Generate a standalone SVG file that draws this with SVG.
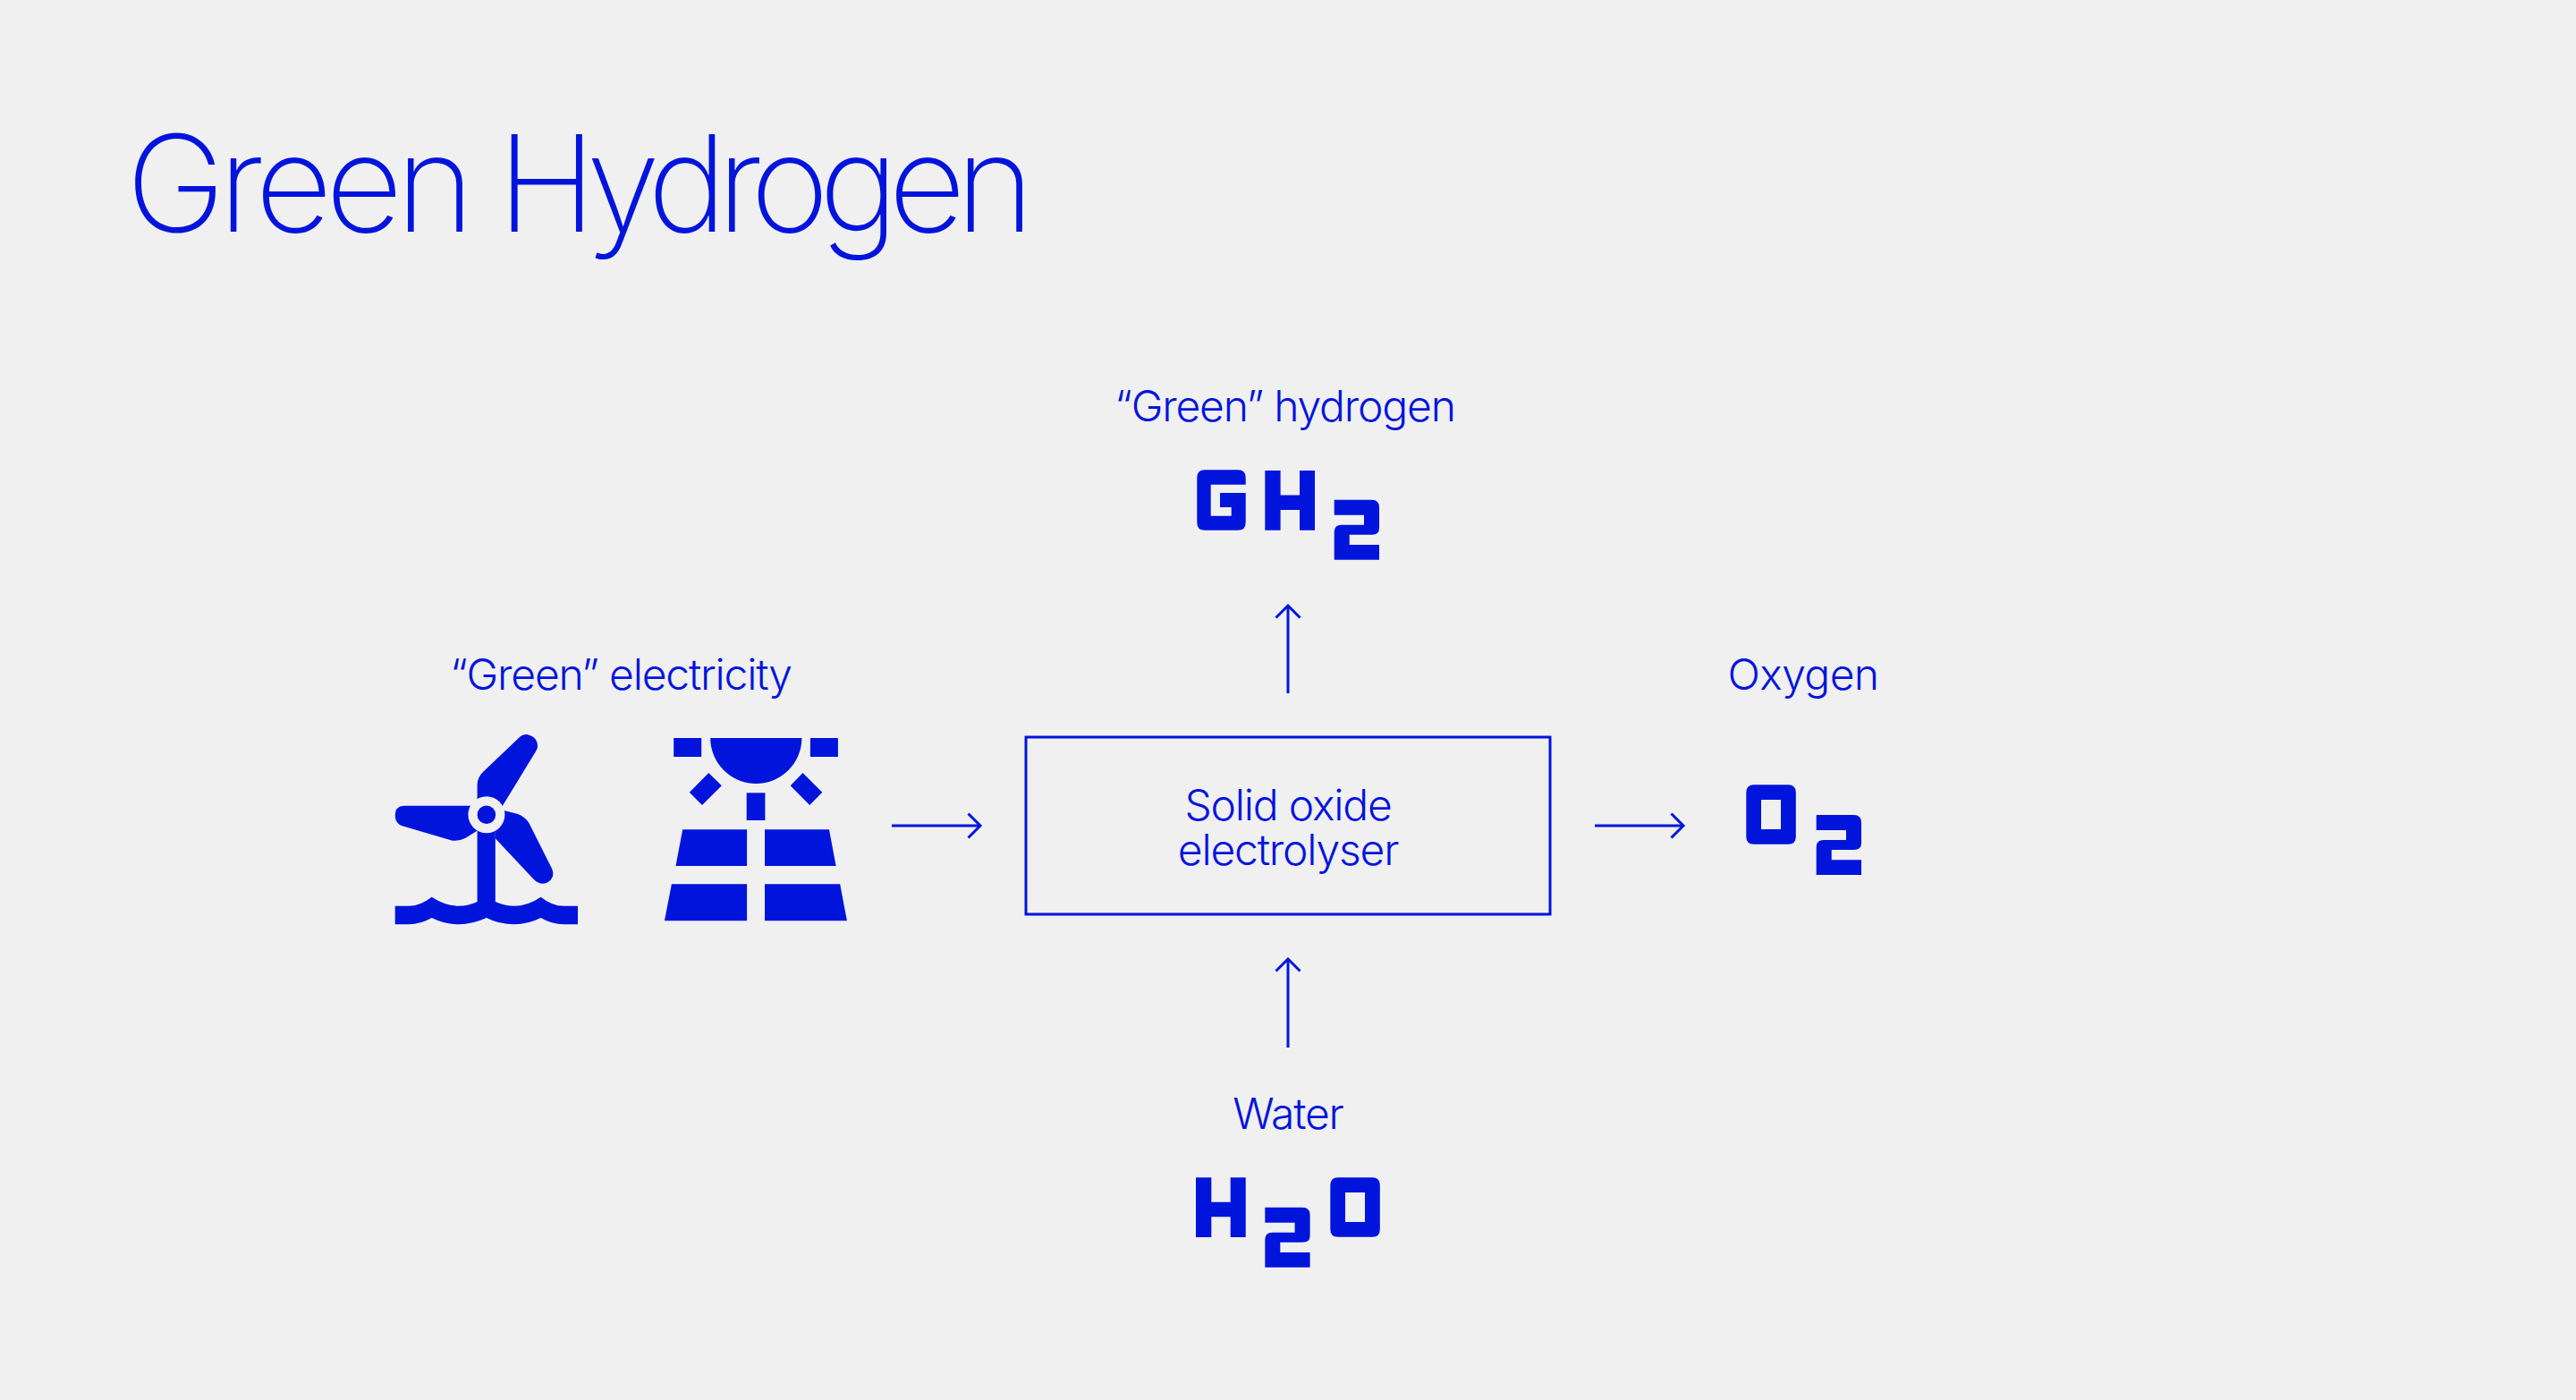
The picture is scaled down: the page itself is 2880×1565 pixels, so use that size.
<svg xmlns="http://www.w3.org/2000/svg" xmlns:xlink="http://www.w3.org/1999/xlink" width="2880" height="1565" viewBox="0 0 2880 1565">
<style>
text{font-family:"Inter","Liberation Sans",sans-serif;font-weight:300;fill:#0014dc}
.title{font-size:150px;font-weight:200}
.label{font-size:48px;text-anchor:middle;letter-spacing:-1.2px}
.ic{fill:#0014dc}
.line{fill:none;stroke:#0014dc;stroke-width:3}
</style>
<defs>
<path id="g2" class="ic" d="M0 0H42Q50.300 0 50.300 8.700V31.700Q50.300 39 42 39H17V50.300H50.300V67H0V36Q0 28 8.300 28H33.300V17H0Z"/>
<path id="gH" class="ic" d="M0 0H17.300V27.500H38.700V0H55.700V66.700H38.700V44H17.300V66.700H0Z"/>
<path id="gO" class="ic" fill-rule="evenodd" d="M8.500 0H47Q55.500 0 55.500 8.500V58Q55.500 66.500 47 66.500H8.500Q0 66.500 0 58V8.500Q0 0 8.500 0ZM16.700 16.700V49.700H38.700V16.700Z"/>
<marker id="head" markerWidth="20" markerHeight="30" refX="15" refY="15" orient="auto" markerUnits="userSpaceOnUse" viewBox="0 0 20 30"><path d="M1.500 1.500L15 15L1.500 28.500" fill="none" stroke="#0014dc" stroke-width="3"/></marker>
</defs>
<rect width="2880" height="1565" fill="#f0f0f0"/>
<g id="title"><text class="title" y="259"><tspan x="141" letter-spacing="-7.8">Green</tspan> <tspan x="556" letter-spacing="-11.2">Hydrogen</tspan></text></g>
<g id="connectors">
<line class="line" x1="997" y1="923" x2="1096" y2="923" marker-end="url(#head)"/>
<line class="line" x1="1783" y1="923" x2="1882" y2="923" marker-end="url(#head)"/>
<line class="line" x1="1440" y1="775" x2="1440" y2="677" marker-end="url(#head)"/>
<line class="line" x1="1440" y1="1171" x2="1440" y2="1072" marker-end="url(#head)"/>
</g>
<g id="electrolyser">
<rect class="line" x="1147" y="824" width="586" height="198"/>
<text class="label" x="1440" y="917">Solid oxide</text>
<text class="label" x="1440" y="967">electrolyser</text>
</g>
<g id="green-electricity">
<text class="label" x="694" y="771">“Green” electricity</text>
<g id="wind-turbine">
<path class="ic" d="M533.600 915V876.700Q534 869 539.700 863.300L579.900 825Q584 820.500 589.400 821Q602 824 600.900 836L599 840L561.900 900.700L544 912Z"/>
<path class="ic" d="M544 900.700H451.700Q441.700 901 441.700 911.700Q442 920.500 449.800 923.300L503.300 939Q511 941.500 520.500 936.700L544 922Z"/>
<path class="ic" d="M544 901L579 910Q587 913 591.400 920L617.400 971.700Q621 981 612 986.500Q604 990 597 983.300L553.800 937.300V925Z"/>
<path class="ic" d="M533.600 915H553.800V1010H533.600Z"/>
<circle cx="543.900" cy="910.700" r="20.500" fill="#f0f0f0"/>
<circle class="ic" cx="543.900" cy="910.700" r="10.300"/>
<path class="ic" d="M441.700 1012.700H457Q470 1012.700 482.700 1002.700Q498 1012.700 513 1012.700Q524 1012.700 533.600 1008H553.800Q564 1012.700 575 1012.700Q590 1012.700 604.700 1002.700Q617 1012.700 630 1012.700H646V1033.300H630Q617 1033.300 604.700 1026Q590 1033.300 575 1033.300Q558 1033.300 543.900 1026Q528 1033.300 513 1033.300Q497 1033.300 482.700 1026Q470 1033.300 457 1033.300H441.700Z"/>
</g>
<g id="solar-panel" class="ic">
<rect x="753.200" y="825" width="31" height="21"/>
<rect x="905.900" y="825" width="31" height="21"/>
<path d="M794.200 825H896.400C896.400 853 873.500 876 845.300 876C817 876 794.200 853 794.200 825Z"/>
<path d="M792.300 864L806.800 878.300L785 900L770.800 885.700Z"/>
<path d="M897.500 864L919.300 885.700L905.200 900L883.700 878.300Z"/>
<rect x="834.700" y="886.300" width="20.700" height="30.700"/>
<path d="M763.200 927.300H835.100V968H755.500Z"/>
<path d="M855 927.300H927L934.600 968H855Z"/>
<path d="M750.900 988.300H835.100V1029.300H742.900Z"/>
<path d="M855 988.300H939.200L946.900 1029.300H855Z"/>
</g>
</g>
<g id="green-hydrogen">
<text class="label" x="1436.500" y="471">“Green” hydrogen</text>
<path class="ic" d="M1346.800 525.300H1384.200Q1392.700 525.300 1392.700 533.800V541.700H1353.700V576.700H1376.700V567H1364V551H1392.700V584.200Q1392.700 592.700 1384.200 592.700H1346.800Q1338.300 592.700 1338.300 584.200V533.800Q1338.300 525.300 1346.800 525.300Z"/>
<use href="#gH" xlink:href="#gH" x="1414.300" y="526"/>
<use href="#g2" xlink:href="#g2" x="1491.700" y="558.700"/>
</g>
<g id="oxygen">
<text class="label" x="2016" y="771" style="letter-spacing:-0.6px">Oxygen</text>
<use href="#gO" xlink:href="#gO" x="1952.300" y="877.300"/>
<use href="#g2" xlink:href="#g2" x="2030.700" y="911"/>
</g>
<g id="water">
<text class="label" x="1440" y="1262">Water</text>
<use href="#gH" xlink:href="#gH" x="1337" y="1316.300"/>
<use href="#g2" xlink:href="#g2" x="1414.300" y="1349.700"/>
<use href="#gO" xlink:href="#gO" x="1487.300" y="1316.300"/>
</g>
</svg>
